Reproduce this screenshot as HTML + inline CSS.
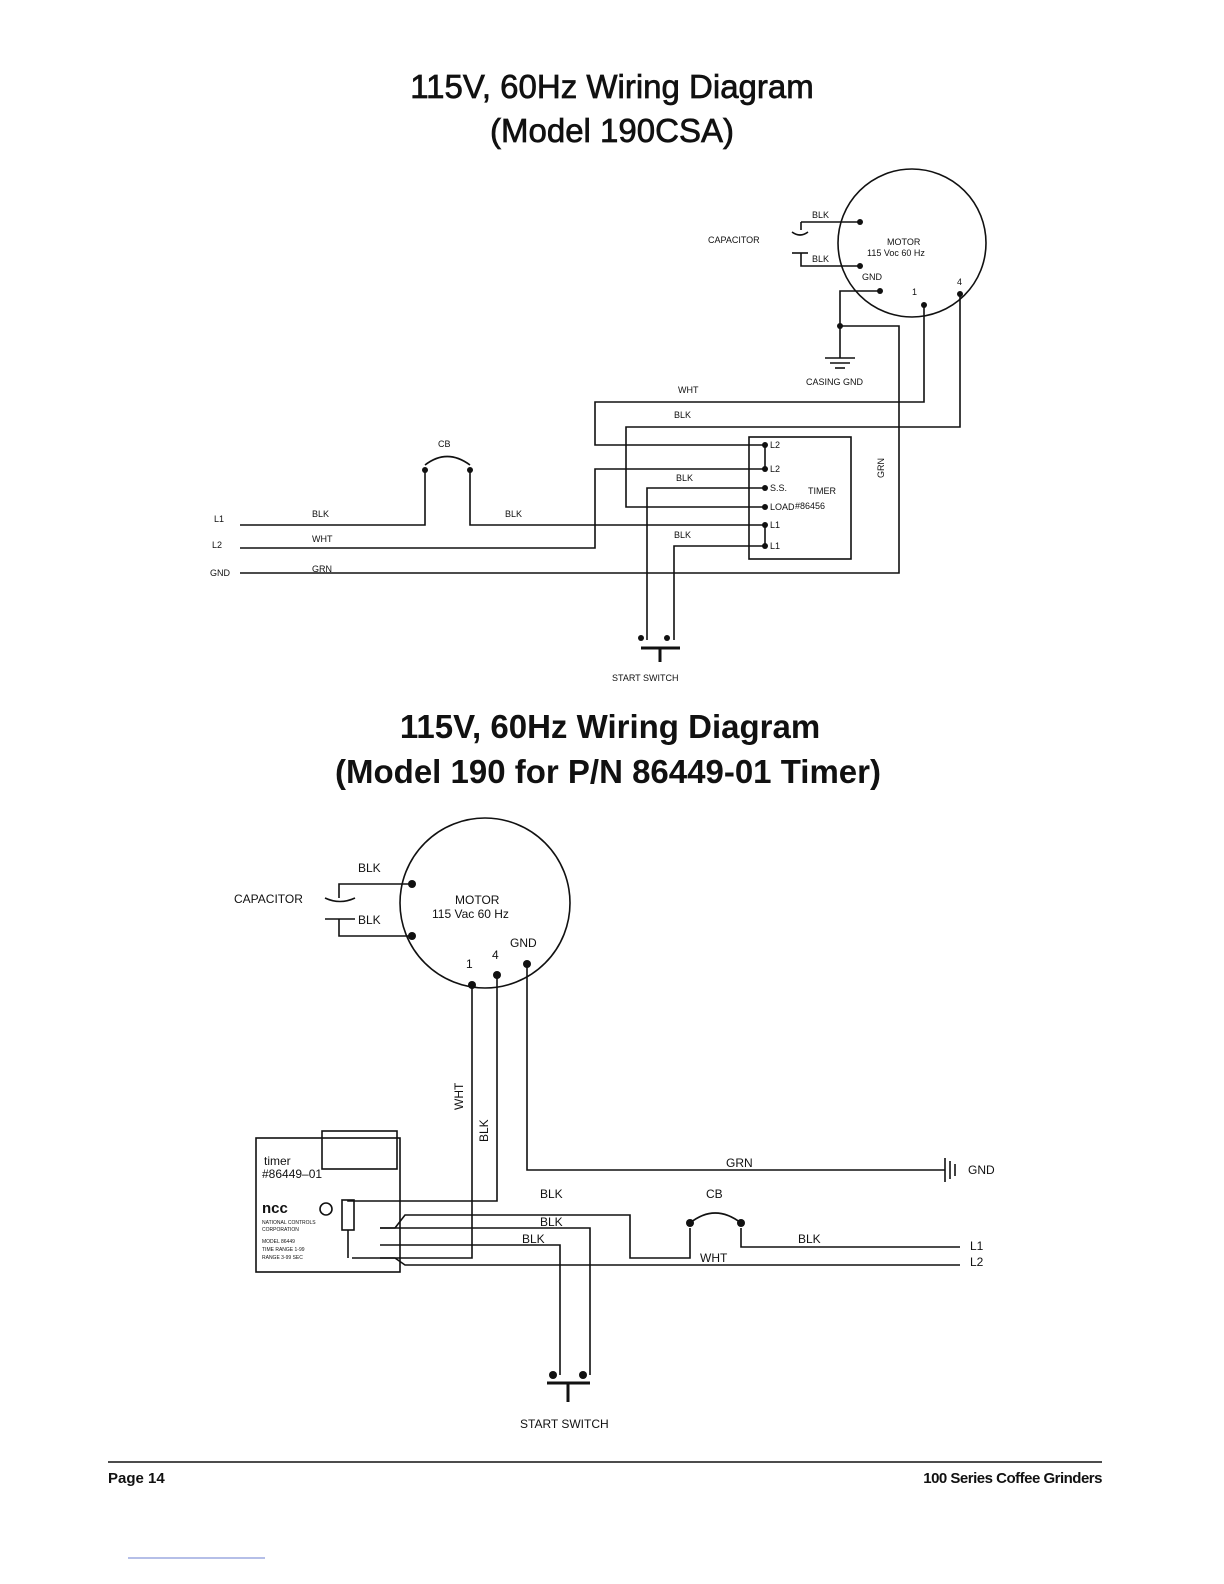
<!DOCTYPE html>
<html><head><meta charset="utf-8"><style>
html,body{margin:0;padding:0;background:#fff;}
svg{display:block;}
text{font-family:"Liberation Sans",sans-serif;fill:#111;}
</style></head><body>
<svg width="1224" height="1584" viewBox="0 0 1224 1584" xmlns="http://www.w3.org/2000/svg">
<g text-anchor="middle" font-size="33">
<text x="612" y="98" stroke="#111" stroke-width="0.7">115V, 60Hz Wiring Diagram</text>
<text x="612" y="142" stroke="#111" stroke-width="0.7">(Model 190CSA)</text>
<text x="610" y="738" font-weight="bold">115V, 60Hz Wiring Diagram</text>
<text x="608" y="783" font-weight="bold">(Model 190 for P/N 86449-01 Timer)</text>
</g>
<g fill="none" stroke="#111" stroke-width="1.6">
<!-- TOP -->
<circle cx="912" cy="243" r="74"/>
<polyline points="801,222 860,222"/><polyline points="801,222 801,230"/>
<path d="M792,232 Q800,238 808,232"/>
<line x1="792" y1="253" x2="808" y2="253"/><polyline points="801,253 801,266 860,266"/>
<polyline points="880,291 840,291 840,326 899,326 899,573 240,573"/>
<line x1="840" y1="326" x2="840" y2="358"/>
<line x1="825" y1="358" x2="855" y2="358"/><line x1="830" y1="363" x2="850" y2="363"/><line x1="835" y1="368" x2="845" y2="368"/>
<polyline points="924,305 924,402 595,402 595,445 765,445"/>
<polyline points="960,294 960,427 626,427 626,507 765,507"/>
<rect x="749" y="437" width="102" height="122"/>
<polyline points="765,469 595,469 595,548 240,548"/>
<line x1="765" y1="445" x2="765" y2="469"/>
<polyline points="765,488 647,488 647,640"/>
<polyline points="765,525 470,525 470,470"/>
<polyline points="240,525 425,525 425,470"/>
<path d="M425,465 Q447,448 470,465"/>
<polyline points="765,546 674,546 674,640"/>
<line x1="765" y1="525" x2="765" y2="546"/>
<line x1="641" y1="648" x2="680" y2="648" stroke-width="3"/><line x1="660" y1="648" x2="660" y2="662" stroke-width="3"/>
<!-- BOTTOM -->
<circle cx="485" cy="903" r="85"/>
<polyline points="339,898 339,884 412,884"/>
<path d="M325,898 Q340,905 355,898"/>
<line x1="325" y1="919" x2="355" y2="919"/><polyline points="339,919 339,936 412,936"/>
<polyline points="472,985 472,1258 352,1258"/>
<polyline points="497,975 497,1201 380,1201"/>
<polyline points="527,964 527,1170 945,1170"/>
<line x1="945" y1="1158" x2="945" y2="1182"/><line x1="950" y1="1161" x2="950" y2="1179"/><line x1="955" y1="1164" x2="955" y2="1176"/>
<rect x="256" y="1138" width="144" height="134"/>
<rect x="322" y="1131" width="75" height="38"/>
<circle cx="326" cy="1209" r="6"/>
<rect x="342" y="1200" width="12" height="30"/>
<polyline points="348,1200 348,1201 380,1201"/>
<polyline points="348,1230 348,1258"/>
<polyline points="380,1228 395,1228 405,1215 630,1215 630,1258 690,1258 690,1228"/>
<path d="M690,1223 Q715,1203 741,1223"/>
<polyline points="741,1228 741,1247 960,1247"/>
<polyline points="380,1228 590,1228 590,1375"/>
<polyline points="380,1245 560,1245 560,1375"/>
<polyline points="380,1258 395,1258 405,1265 960,1265"/>
<line x1="547" y1="1383" x2="590" y2="1383" stroke-width="3"/><line x1="568" y1="1383" x2="568" y2="1402" stroke-width="3"/>
<line x1="108" y1="1462" x2="1102" y2="1462" stroke-width="1.4"/>
<line x1="128" y1="1558" x2="265" y2="1558" stroke="#6b7fd0" stroke-width="1"/>
</g>
<g fill="#111">
<circle cx="860" cy="222" r="3"/><circle cx="860" cy="266" r="3"/><circle cx="880" cy="291" r="3"/><circle cx="924" cy="305" r="3"/><circle cx="960" cy="294" r="3"/><circle cx="840" cy="326" r="3"/>
<circle cx="765" cy="445" r="3"/><circle cx="765" cy="469" r="3"/><circle cx="765" cy="488" r="3"/><circle cx="765" cy="507" r="3"/><circle cx="765" cy="525" r="3"/><circle cx="765" cy="546" r="3"/>
<circle cx="425" cy="470" r="3"/><circle cx="470" cy="470" r="3"/><circle cx="641" cy="638" r="3"/><circle cx="667" cy="638" r="3"/>
<circle cx="412" cy="884" r="4"/><circle cx="412" cy="936" r="4"/><circle cx="472" cy="985" r="4"/><circle cx="497" cy="975" r="4"/><circle cx="527" cy="964" r="4"/>
<circle cx="690" cy="1223" r="4"/><circle cx="741" cy="1223" r="4"/><circle cx="553" cy="1375" r="4"/><circle cx="583" cy="1375" r="4"/>
</g>
<g font-size="9">
<text x="812" y="218">BLK</text><text x="812" y="262">BLK</text><text x="708" y="243">CAPACITOR</text>
<text x="887" y="245">MOTOR</text><text x="867" y="256">115 Voc 60 Hz</text>
<text x="862" y="280">GND</text><text x="912" y="295">1</text><text x="957" y="285">4</text>
<text x="806" y="385">CASING GND</text><text x="678" y="393">WHT</text><text x="674" y="418">BLK</text>
<text x="676" y="481">BLK</text><text x="674" y="538">BLK</text><text x="438" y="447">CB</text>
<text x="770" y="448">L2</text><text x="770" y="472">L2</text><text x="770" y="491">S.S.</text><text x="770" y="510">LOAD</text><text x="770" y="528">L1</text><text x="770" y="549">L1</text>
<text x="808" y="494">TIMER</text><text x="795" y="509">#86456</text>
<text x="312" y="517">BLK</text><text x="505" y="517">BLK</text><text x="312" y="542">WHT</text><text x="312" y="572">GRN</text>
<text x="214" y="522">L1</text><text x="212" y="548">L2</text><text x="210" y="576">GND</text>
<text x="612" y="681">START SWITCH</text>
<text transform="translate(884,478) rotate(-90)">GRN</text>
</g>
<g font-size="12">
<text x="358" y="872">BLK</text><text x="358" y="924">BLK</text><text x="234" y="903">CAPACITOR</text>
<text x="455" y="904">MOTOR</text><text x="432" y="918">115 Vac 60 Hz</text>
<text x="510" y="947">GND</text><text x="466" y="968">1</text><text x="492" y="959">4</text>
<text x="540" y="1198">BLK</text><text x="540" y="1226">BLK</text><text x="522" y="1243">BLK</text>
<text x="726" y="1167">GRN</text><text x="706" y="1198">CB</text><text x="798" y="1243">BLK</text><text x="700" y="1262">WHT</text>
<text x="968" y="1174">GND</text><text x="970" y="1250">L1</text><text x="970" y="1266">L2</text>
<text x="520" y="1428">START SWITCH</text>
<text transform="translate(463,1110) rotate(-90)">WHT</text>
<text transform="translate(488,1142) rotate(-90)">BLK</text>
<text x="264" y="1165">timer</text><text x="262" y="1178">#86449–01</text>
<text x="262" y="1213" font-weight="bold" font-size="15">ncc</text>
</g>
<g font-size="5"><text x="262" y="1224">NATIONAL CONTROLS</text><text x="262" y="1231">CORPORATION</text><text x="262" y="1243">MODEL 86449</text><text x="262" y="1251">TIME RANGE 1-99</text><text x="262" y="1259">RANGE 3-99 SEC</text></g>
<text x="108" y="1483" font-size="15" font-weight="bold">Page 14</text>
<text x="1102" y="1483" font-size="15" font-weight="bold" text-anchor="end" letter-spacing="-0.5">100 Series Coffee Grinders</text>
</svg>
</body></html>
